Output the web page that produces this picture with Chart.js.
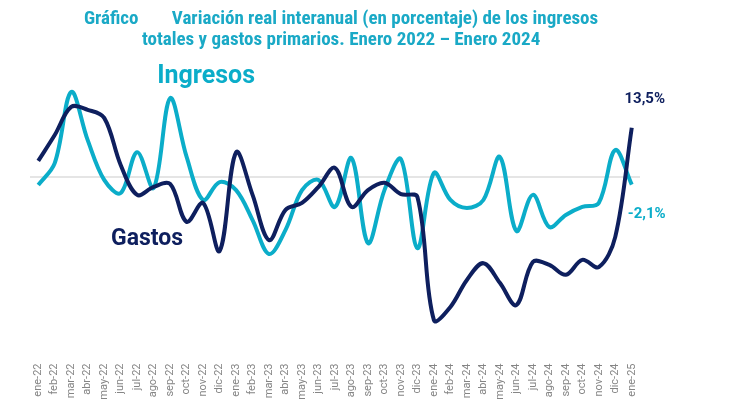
<!DOCTYPE html>
<html>
<head>
<meta charset="utf-8">
<script src="https://cdn.jsdelivr.net/npm/chart.js@4.4.1/dist/chart.umd.min.js"></script>
<style>
  body { margin: 0; background: #fff; }
  #wrap { width: 730px; height: 407px; }
</style>
</head>
<body>
<div id="wrap"><canvas id="mycanvas" width="730" height="407"></canvas></div>
<script>
// meses ene-22 .. ene-25
var meses = ["ene-22","feb-22","mar-22","abr-22","may-22","jun-22","jul-22","ago-22","sep-22","oct-22","nov-22","dic-22",
             "ene-23","feb-23","mar-23","abr-23","may-23","jun-23","jul-23","ago-23","sep-23","oct-23","nov-23","dic-23",
             "ene-24","feb-24","mar-24","abr-24","may-24","jun-24","jul-24","ago-24","sep-24","oct-24","nov-24","dic-24",
             "ene-25"];

// variación real interanual, %
var ingresos = [-2.2, 3.8, 23.3, 10.1, -0.8, -4.4, 6.8, -3.0, 21.6, 5.5, -6.3, -1.4,
                -3.6, -11.8, -21.1, -14.5, -3.6, -0.8, -8.2, 5.2, -18.1, -3.6, 4.9, -19.5,
                1.1, -6.3, -8.5, -6.3, 5.5, -14.8, -4.9, -13.7, -10.4, -8.2, -7.1, 7.4,
                -2.1];
var gastos = [4.4, 11.5, 19.2, 18.4, 16.2, 3.3, -4.9, -2.7, -1.9, -12.3, -7.1, -20.3,
              6.8, -4.9, -17.3, -9.0, -7.1, -2.7, 2.5, -8.2, -3.6, -1.6, -4.7, -5.5,
              -39.2, -35.6, -28.2, -23.6, -29.0, -35.1, -23.3, -24.1, -26.8, -22.7, -24.7, -16.4,
              13.5];

var colorIngresos = "#0BADC9";
var colorGastos = "#0E1F5E";

// linea del cero + rotulos
var extras = {
	id: "extras",
	beforeDatasetsDraw: function(chart) {
		var ctx = chart.ctx, a = chart.chartArea;
		var y0 = chart.scales.y.getPixelForValue(0);
		ctx.save();
		ctx.strokeStyle = "#dcdcdc";
		ctx.lineWidth = 1.5;
		ctx.beginPath();
		ctx.moveTo(a.left, y0);
		ctx.lineTo(a.right, y0);
		ctx.stroke();
		ctx.restore();
	},
	afterDatasetsDraw: function(chart) {
		var ctx = chart.ctx, xs = chart.scales.x, ys = chart.scales.y;
		var n = meses.length - 1;
		ctx.save();
		ctx.textAlign = "center";
		ctx.textBaseline = "middle";

		ctx.fillStyle = colorIngresos;
		ctx.font = "bold 25px Roboto";
		ctx.fillText("Ingresos", xs.getPixelForValue(10.18), ys.getPixelForValue(27.4));

		ctx.fillStyle = colorGastos;
		ctx.font = "bold 23px Roboto";
		ctx.fillText("Gastos", xs.getPixelForValue(6.6), ys.getPixelForValue(-17));

		var xl = xs.getPixelForValue(n);
		ctx.font = "bold 15px Roboto";
		ctx.fillStyle = colorGastos;
		ctx.fillText("13,5%", xl + 13, ys.getPixelForValue(gastos[n]) - 28);
		ctx.fillStyle = colorIngresos;
		ctx.fillText("-2,1%", xl + 15, ys.getPixelForValue(ingresos[n]) + 30);
		ctx.restore();
	}
};

var chartdata = {
	labels: meses,
	datasets: [
		{
			label: "Gastos",
			data: gastos,
			borderColor: colorGastos,
			backgroundColor: colorGastos,
			borderWidth: 4,
			pointRadius: 0,
			tension: 0.35
		},
		{
			label: "Ingresos",
			data: ingresos,
			borderColor: colorIngresos,
			backgroundColor: colorIngresos,
			borderWidth: 4,
			pointRadius: 0,
			tension: 0.35
		}
	]
};

var ctx = document.getElementById("mycanvas");

var LineGraph = new Chart(ctx, {
	type: "line",
	data: chartdata,
	plugins: [extras],
	options: {
		responsive: false,
		animation: false,
		layout: { padding: { left: 30, right: 90, top: 0, bottom: 0 } },
		plugins: {
			legend: { display: false },
			tooltip: { enabled: false },
			title: {
				display: true,
				text: ["\u2002\u2009Gráfico\u2003\u2003Variación real interanual (en porcentaje) de los ingresos",
				       "\u2002\u2009totales y gastos primarios. Enero 2022 \u2013 Enero 2024"],
				color: "#1AA9C6",
				font: { family: "'Liberation Sans Narrow', 'Roboto Condensed', Roboto", size: 19, weight: "bold", lineHeight: 1.1 },
				padding: { top: 9, bottom: 16.7 }
			}
		},
		scales: {
			x: {
				offset: true,
				border: { display: false },
				grid: { display: false, drawTicks: false },
				ticks: {
					color: "#858585",
					font: { family: "Roboto", size: 11 },
					minRotation: 90,
					maxRotation: 90,
					autoSkip: false,
					padding: 4
				},
				afterFit: function(axis) { axis.height = 47.5; }
			},
			y: {
				display: false,
				min: -50,
				max: 30
			}
		}
	}
});
</script>
</body>
</html>
